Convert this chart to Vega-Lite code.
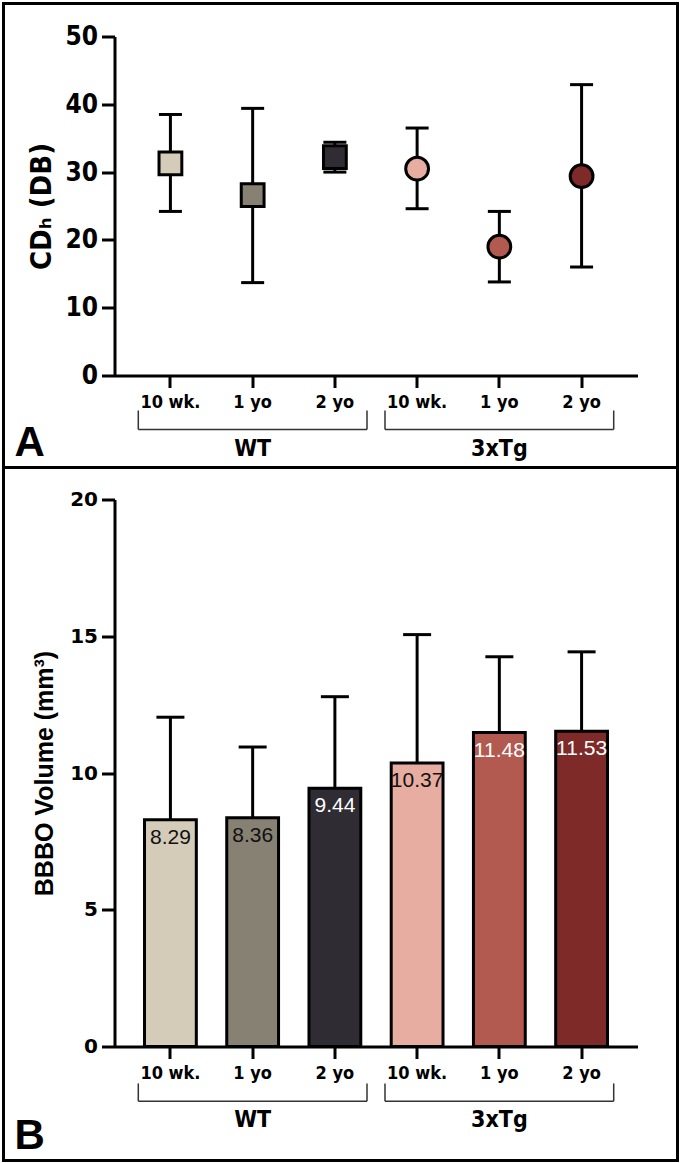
{
  "$schema": "https://vega.github.io/schema/vega-lite/v6.json",
  "padding": {"left": 1.5, "top": 1.5, "right": 6.5, "bottom": 1.5},
  "background": "white",
  "spacing": 0,
  "bounds": "flush",
  "datasets": {
    "cd": [
      {"group": "WT|10 wk.", "genotype": "WT", "mean": 31.3, "low": 24.2, "high": 38.5},
      {"group": "WT|1 yo", "genotype": "WT", "mean": 26.6, "low": 13.7, "high": 39.4},
      {"group": "WT|2 yo", "genotype": "WT", "mean": 32.2, "low": 30.0, "high": 34.4},
      {"group": "3xTg|10 wk.", "genotype": "3xTg", "mean": 30.5, "low": 24.6, "high": 36.5},
      {"group": "3xTg|1 yo", "genotype": "3xTg", "mean": 19.0, "low": 13.8, "high": 24.2},
      {"group": "3xTg|2 yo", "genotype": "3xTg", "mean": 29.4, "low": 16.0, "high": 42.9}
    ],
    "bbbo": [
      {"group": "WT|10 wk.", "genotype": "WT", "mean": 8.29, "high": 12.04},
      {"group": "WT|1 yo", "genotype": "WT", "mean": 8.36, "high": 10.95},
      {"group": "WT|2 yo", "genotype": "WT", "mean": 9.44, "high": 12.79},
      {"group": "3xTg|10 wk.", "genotype": "3xTg", "mean": 10.37, "high": 15.06},
      {"group": "3xTg|1 yo", "genotype": "3xTg", "mean": 11.48, "high": 14.25},
      {"group": "3xTg|2 yo", "genotype": "3xTg", "mean": 11.53, "high": 14.43}
    ],
    "brackets": [
      {"genotype": "WT", "first": "WT|10 wk.", "mid": "WT|1 yo", "last": "WT|2 yo"},
      {"genotype": "3xTg", "first": "3xTg|10 wk.", "mid": "3xTg|1 yo", "last": "3xTg|2 yo"}
    ]
  },
  "vconcat": [
    {
      "width": 674,
      "height": 464,
      "title": {"text": "A", "orient": "bottom", "anchor": "start", "frame": "group", "offset": -12, "dx": 11, "fontSize": 42, "fontWeight": "bold", "font": "Liberation Sans", "baseline": "alphabetic", "color": "black"},
      "layer": [
        {
          "data": {"name": "cd"},
          "mark": {"type": "rule", "strokeWidth": 3, "color": "black"},
          "encoding": {
            "x": {"field": "group", "type": "nominal",
              "scale": {"type": "band", "domain": ["WT|10 wk.", "WT|1 yo", "WT|2 yo", "3xTg|10 wk.", "3xTg|1 yo", "3xTg|2 yo"], "range": [111, 634], "paddingInner": 0.37, "paddingOuter": 0.365},
              "axis": {"title": null, "orient": "bottom", "offset": -92, "labelExpr": "split(datum.label, '|')[1]", "labelAngle": 0, "tickSize": 12, "labelPadding": 6, "labelFont": "Liberation Sans Narrow, DejaVu Sans Condensed, Liberation Sans, sans-serif", "labelFontSize": 18, "labelFontWeight": "bold"}},
            "y": {"field": "low", "type": "quantitative",
              "scale": {"domain": [0, 50], "range": [372, 33], "nice": false, "zero": false},
              "axis": {"title": "CDₕ (DB)", "orient": "left", "offset": -111, "values": [0, 10, 20, 30, 40, 50], "tickSize": 13, "labelPadding": 4, "labelFont": "Liberation Sans Narrow, DejaVu Sans Condensed, Liberation Sans, sans-serif", "labelFontSize": 26, "labelFontWeight": "bold", "titleFont": "Liberation Sans Narrow, DejaVu Sans Condensed, Liberation Sans, sans-serif", "titleFontSize": 29, "titleFontWeight": "bold", "titlePadding": 8}},
            "y2": {"field": "high"}
          }
        },
        {
          "data": {"name": "cd"},
          "mark": {"type": "tick", "thickness": 3, "size": 23, "color": "black", "opacity": 1},
          "encoding": {
            "x": {"field": "group", "type": "nominal"},
            "y": {"field": "high", "type": "quantitative"}
          }
        },
        {
          "data": {"name": "cd"},
          "mark": {"type": "tick", "thickness": 3, "size": 23, "color": "black", "opacity": 1},
          "encoding": {
            "x": {"field": "group", "type": "nominal"},
            "y": {"field": "low", "type": "quantitative"}
          }
        },
        {
          "data": {"name": "cd"},
          "mark": {"type": "point", "filled": true, "stroke": "black", "strokeWidth": 3, "size": 520, "opacity": 1},
          "encoding": {
            "x": {"field": "group", "type": "nominal"},
            "y": {"field": "mean", "type": "quantitative"},
            "fill": {"field": "group", "type": "nominal", "legend": null,
              "scale": {"domain": ["WT|10 wk.", "WT|1 yo", "WT|2 yo", "3xTg|10 wk.", "3xTg|1 yo", "3xTg|2 yo"], "range": ["#d4ccb9", "#878173", "#2f2d33", "#e8ada1", "#b35a50", "#7d2a28"]}},
            "shape": {"field": "genotype", "type": "nominal", "legend": null,
              "scale": {"domain": ["WT", "3xTg"], "range": ["square", "circle"]}}
          }
        },
        {
          "data": {"name": "brackets"},
          "mark": {"type": "rule", "strokeWidth": 1.5, "color": "#333333"},
          "encoding": {
            "x": {"field": "first", "type": "nominal", "bandPosition": -0.12},
            "x2": {"field": "last", "bandPosition": 1.12},
            "y": {"datum": -7.96}
          }
        },
        {
          "data": {"name": "brackets"},
          "mark": {"type": "rule", "strokeWidth": 1.5, "color": "#333333"},
          "encoding": {
            "x": {"field": "first", "type": "nominal", "bandPosition": -0.12},
            "y": {"datum": -7.96},
            "y2": {"datum": -5.16}
          }
        },
        {
          "data": {"name": "brackets"},
          "mark": {"type": "rule", "strokeWidth": 1.5, "color": "#333333"},
          "encoding": {
            "x": {"field": "last", "type": "nominal", "bandPosition": 1.12},
            "y": {"datum": -7.96},
            "y2": {"datum": -5.16}
          }
        },
        {
          "data": {"name": "brackets"},
          "mark": {"type": "text", "font": "Liberation Sans Narrow, DejaVu Sans Condensed, Liberation Sans, sans-serif", "fontSize": 23, "fontWeight": "bold", "baseline": "middle", "align": "center", "color": "black"},
          "encoding": {
            "x": {"field": "mid", "type": "nominal"},
            "y": {"datum": -10.77},
            "text": {"field": "genotype"}
          }
        }
      ]
    },
    {
      "width": 674,
      "height": 693,
      "title": {"text": "B", "orient": "bottom", "anchor": "start", "frame": "group", "offset": -12, "dx": 11, "fontSize": 42, "fontWeight": "bold", "font": "Liberation Sans", "baseline": "alphabetic", "color": "black"},
      "layer": [
        {
          "data": {"name": "bbbo"},
          "mark": {"type": "bar", "stroke": "black", "strokeWidth": 3, "opacity": 1},
          "encoding": {
            "x": {"field": "group", "type": "nominal",
              "scale": {"type": "band", "domain": ["WT|10 wk.", "WT|1 yo", "WT|2 yo", "3xTg|10 wk.", "3xTg|1 yo", "3xTg|2 yo"], "range": [111, 634], "paddingInner": 0.37, "paddingOuter": 0.365},
              "axis": {"title": null, "orient": "bottom", "offset": -114, "labelExpr": "split(datum.label, '|')[1]", "labelAngle": 0, "tickSize": 12, "labelPadding": 6, "labelFont": "Liberation Sans Narrow, DejaVu Sans Condensed, Liberation Sans, sans-serif", "labelFontSize": 18, "labelFontWeight": "bold"}},
            "y": {"field": "mean", "type": "quantitative",
              "scale": {"domain": [0, 20], "range": [579, 32], "nice": false, "zero": true},
              "axis": {"title": "BBBO Volume (mm³)", "orient": "left", "offset": -111, "values": [0, 5, 10, 15, 20], "tickSize": 13, "labelPadding": 4, "labelFont": "DejaVu Sans", "labelFontSize": 20, "labelFontWeight": "bold", "titleFont": "Liberation Sans", "titleFontSize": 25, "titleFontWeight": "bold", "titlePadding": 12}},
            "fill": {"field": "group", "type": "nominal", "legend": null,
              "scale": {"domain": ["WT|10 wk.", "WT|1 yo", "WT|2 yo", "3xTg|10 wk.", "3xTg|1 yo", "3xTg|2 yo"], "range": ["#d0c8b6", "#878173", "#302e33", "#e6ada0", "#b05a50", "#7b2a28"]}}
          }
        },
        {
          "data": {"name": "bbbo"},
          "mark": {"type": "rule", "strokeWidth": 3, "color": "black"},
          "encoding": {
            "x": {"field": "group", "type": "nominal"},
            "y": {"field": "mean", "type": "quantitative"},
            "y2": {"field": "high"}
          }
        },
        {
          "data": {"name": "bbbo"},
          "mark": {"type": "tick", "thickness": 3, "size": 28, "color": "black", "opacity": 1},
          "encoding": {
            "x": {"field": "group", "type": "nominal"},
            "y": {"field": "high", "type": "quantitative"}
          }
        },
        {
          "data": {"name": "bbbo"},
          "mark": {"type": "text", "font": "Liberation Sans", "fontSize": 21, "baseline": "middle", "align": "center", "dy": 18},
          "encoding": {
            "x": {"field": "group", "type": "nominal"},
            "y": {"field": "mean", "type": "quantitative"},
            "text": {"field": "mean", "type": "quantitative", "format": ".2f"},
            "color": {"field": "group", "type": "nominal", "legend": null,
              "scale": {"domain": ["WT|10 wk.", "WT|1 yo", "WT|2 yo", "3xTg|10 wk.", "3xTg|1 yo", "3xTg|2 yo"], "range": ["#111111", "#111111", "#ffffff", "#111111", "#ffffff", "#ffffff"]}}
          }
        },
        {
          "data": {"name": "brackets"},
          "mark": {"type": "rule", "strokeWidth": 1.5, "color": "#333333"},
          "encoding": {
            "x": {"field": "first", "type": "nominal", "bandPosition": -0.12},
            "x2": {"field": "last", "bandPosition": 1.12},
            "y": {"datum": -2.0}
          }
        },
        {
          "data": {"name": "brackets"},
          "mark": {"type": "rule", "strokeWidth": 1.5, "color": "#333333"},
          "encoding": {
            "x": {"field": "first", "type": "nominal", "bandPosition": -0.12},
            "y": {"datum": -2.0},
            "y2": {"datum": -1.35}
          }
        },
        {
          "data": {"name": "brackets"},
          "mark": {"type": "rule", "strokeWidth": 1.5, "color": "#333333"},
          "encoding": {
            "x": {"field": "last", "type": "nominal", "bandPosition": 1.12},
            "y": {"datum": -2.0},
            "y2": {"datum": -1.35}
          }
        },
        {
          "data": {"name": "brackets"},
          "mark": {"type": "text", "font": "Liberation Sans Narrow, DejaVu Sans Condensed, Liberation Sans, sans-serif", "fontSize": 23, "fontWeight": "bold", "baseline": "middle", "align": "center", "color": "black"},
          "encoding": {
            "x": {"field": "mid", "type": "nominal"},
            "y": {"datum": -2.7},
            "text": {"field": "genotype"}
          }
        }
      ]
    }
  ],
  "config": {
    "view": {"stroke": "black", "strokeWidth": 3},
    "font": "Liberation Sans",
    "axis": {"grid": false, "domainColor": "black", "domainWidth": 3, "tickColor": "black", "tickWidth": 3, "labelColor": "black", "titleColor": "black"}
  }
}
